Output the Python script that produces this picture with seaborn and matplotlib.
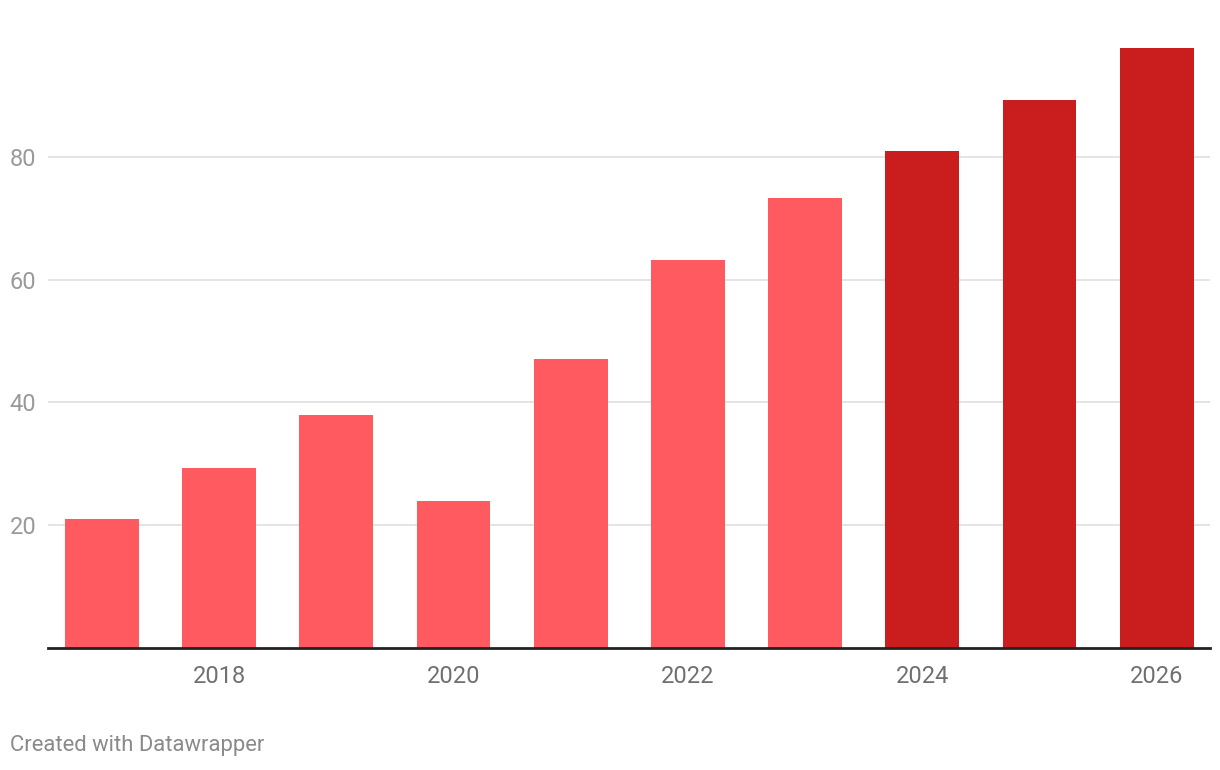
import pandas as pd
import matplotlib.pyplot as plt
import seaborn as sns

years = [2017, 2018, 2019, 2020, 2021, 2022, 2023, 2024, 2025, 2026]
values = [21.0, 29.3, 38.0, 24.0, 47.0, 63.2, 73.3, 81.0, 89.2, 97.8]
period = ["actual"] * 7 + ["forecast"] * 3
colors = {"actual": "#ff5a60", "forecast": "#c91d1e"}
ytick_vals = [20, 40, 60, 80]
xtick_years = [2018, 2020, 2022, 2024, 2026]

df = pd.DataFrame({"year": [str(y) for y in years], "value": values, "period": period})

sns.set_theme(style="white")
plt.rcParams["font.family"] = ["Roboto", "DejaVu Sans"]

fig = plt.figure(figsize=(12.2, 7.7), dpi=100)
ax = fig.add_axes([48 / 1220, 122 / 770, 1162 / 1220, 614 / 770])

sns.barplot(data=df, x="year", y="value", hue="period", palette=colors,
            dodge=False, width=0.63, legend=False, ax=ax, saturation=1,
            linewidth=0)

ax.set_xlim(-0.461, 9.455)
ax.set_ylim(0, 100)

# gridlines
ax.set_yticks(ytick_vals)
ax.yaxis.grid(True, color="#e2e2e2", linewidth=1.3)
ax.set_axisbelow(True)
ax.tick_params(axis="y", length=0, pad=8.5, labelsize=17, labelcolor="#9a9a9a")

pos = [years.index(y) for y in xtick_years]
ax.set_xticks(pos)
ax.set_xticklabels([str(y) for y in xtick_years])
ax.tick_params(axis="x", length=0, pad=12, labelsize=17, labelcolor="#707070")

for s in ["top", "right", "left"]:
    ax.spines[s].set_visible(False)
ax.spines["bottom"].set_color("#222222")
ax.spines["bottom"].set_linewidth(2)
ax.set_xlabel("")
ax.set_ylabel("")

fig.text(10 / 1220, 1 - 746 / 770, "Created with Datawrapper", fontsize=15.8,
         color="#8a8a8a", va="center", ha="left")

fig.savefig("out.png", dpi=100)
